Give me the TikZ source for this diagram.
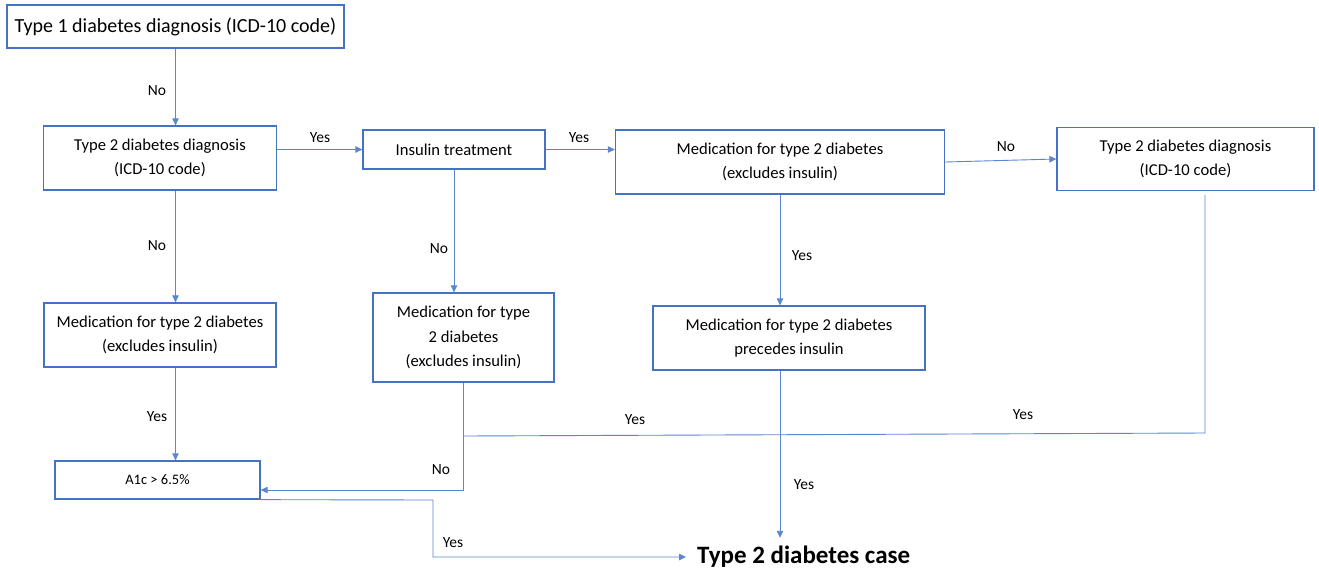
\documentclass[tikz,border=0pt]{standalone}
\usepackage{fontspec}
\setmainfont{Carlito}
\usetikzlibrary{arrows.meta}
\definecolor{boxblue}{HTML}{4472C4}
\definecolor{lineblue}{HTML}{5B86D0}
\tikzset{
  fbox/.style={draw=boxblue, line width=1.3pt, align=center, inner sep=0pt,
    font=\fontsize{16.6}{24.5}\selectfont},
  conn/.style={draw=lineblue, line width=0.9pt},
  arr/.style={conn, -{Triangle[width=6.5pt,length=7pt]}},
  lbl/.style={font=\fontsize{15.5}{18}\selectfont, inner sep=0pt}
}
\begin{document}
\begin{tikzpicture}[x=1pt,y=-1pt]
\useasboundingbox[fill=white] (0,0) rectangle (1319,576);
% boxes
\node[fbox, minimum width=337pt, minimum height=43pt, font=\fontsize{20}{23}\selectfont] (t1) at (175.5,26.5) {Type 1 diabetes diagnosis (ICD-10 code)};
\node[fbox, minimum width=233pt, minimum height=64pt] (t2a) at (160,158) {Type 2 diabetes diagnosis\\(ICD-10 code)};
\node[fbox, minimum width=182pt, minimum height=39pt] (ins) at (454,149.5) {Insulin treatment};
\node[fbox, minimum width=329pt, minimum height=64pt] (meda) at (780,162) {Medication for type 2 diabetes\\(excludes insulin)};
\node[fbox, minimum width=257pt, minimum height=63pt] (t2b) at (1185.5,159) {Type 2 diabetes diagnosis\\(ICD-10 code)};
\node[fbox, minimum width=232pt, minimum height=64pt] (med1) at (160,335) {Medication for type 2 diabetes\\(excludes insulin)};
\node[fbox, minimum width=181pt, minimum height=89pt] (med2) at (463.5,337.5) {Medication for type\\2 diabetes\\(excludes insulin)};
\node[fbox, minimum width=272pt, minimum height=64pt] (medp) at (789,338) {Medication for type 2 diabetes\\precedes insulin};
\node[fbox, minimum width=205pt, minimum height=38pt, font=\fontsize{14.5}{18}\selectfont] (a1c) at (157.5,480) {A1c > 6.5\%};
\node[anchor=west, inner xsep=11pt, inner ysep=0pt, minimum height=38pt, font=\fontsize{25}{28}\selectfont\bfseries] (case) at (686,557) {Type 2 diabetes case};
% helper coordinates
\coordinate (m2b) at (463.5,490);
\coordinate (tbc) at (1205,433);
\coordinate (jn) at (463.5,436);
\coordinate (abr) at (433,500);
\coordinate (abd) at (433,557);
% connectors
\draw[arr] (t1.south) -- (t1.south |- t2a.north);
\draw[arr] (ins.west -| t2a.east) -- (ins.west);
\draw[arr] (ins.east) -- (ins.east -| meda.west);
\draw[arr] (meda.east) -- (t2b.west);
\draw[arr] (t2a.south -| t1.south) -- (med1.north -| t1.south);
\draw[arr] (ins.south) -- (ins.south |- med2.north);
\draw[arr] (meda.south) -- (meda.south |- medp.north);
\draw[arr] (med1.south -| t1.south) -- (a1c.north -| t1.south);
\draw[arr] (med2.south) -- (m2b) -- (m2b -| a1c.east);
\draw[conn] ([yshift=-4pt]t2b.south -| tbc) -- (tbc) -- (jn);
\draw[arr] (medp.south -| meda.south) -- (case.north -| meda.south);
\draw[arr] (a1c.south east) -- (abr) -- (abd) -- (case.west);
% labels
\node[lbl] (l1) at (157,91) {No};
\node[lbl] (l2) at (320,138) {Yes};
\node[lbl] (l3) at (579,138) {Yes};
\node[lbl] (l4) at (1006,147) {No};
\node[lbl] (l5) at (157,246) {No};
\node[lbl] (l6) at (439,249) {No};
\node[lbl] (l7) at (802,256) {Yes};
\node[lbl] (l8) at (157,417) {Yes};
\node[lbl] (l9) at (635,420) {Yes};
\node[lbl] (l10) at (1023,415) {Yes};
\node[lbl] (l11) at (441,470) {No};
\node[lbl] (l12) at (804,485) {Yes};
\node[lbl] (l13) at (453,543) {Yes};
\end{tikzpicture}
\end{document}
